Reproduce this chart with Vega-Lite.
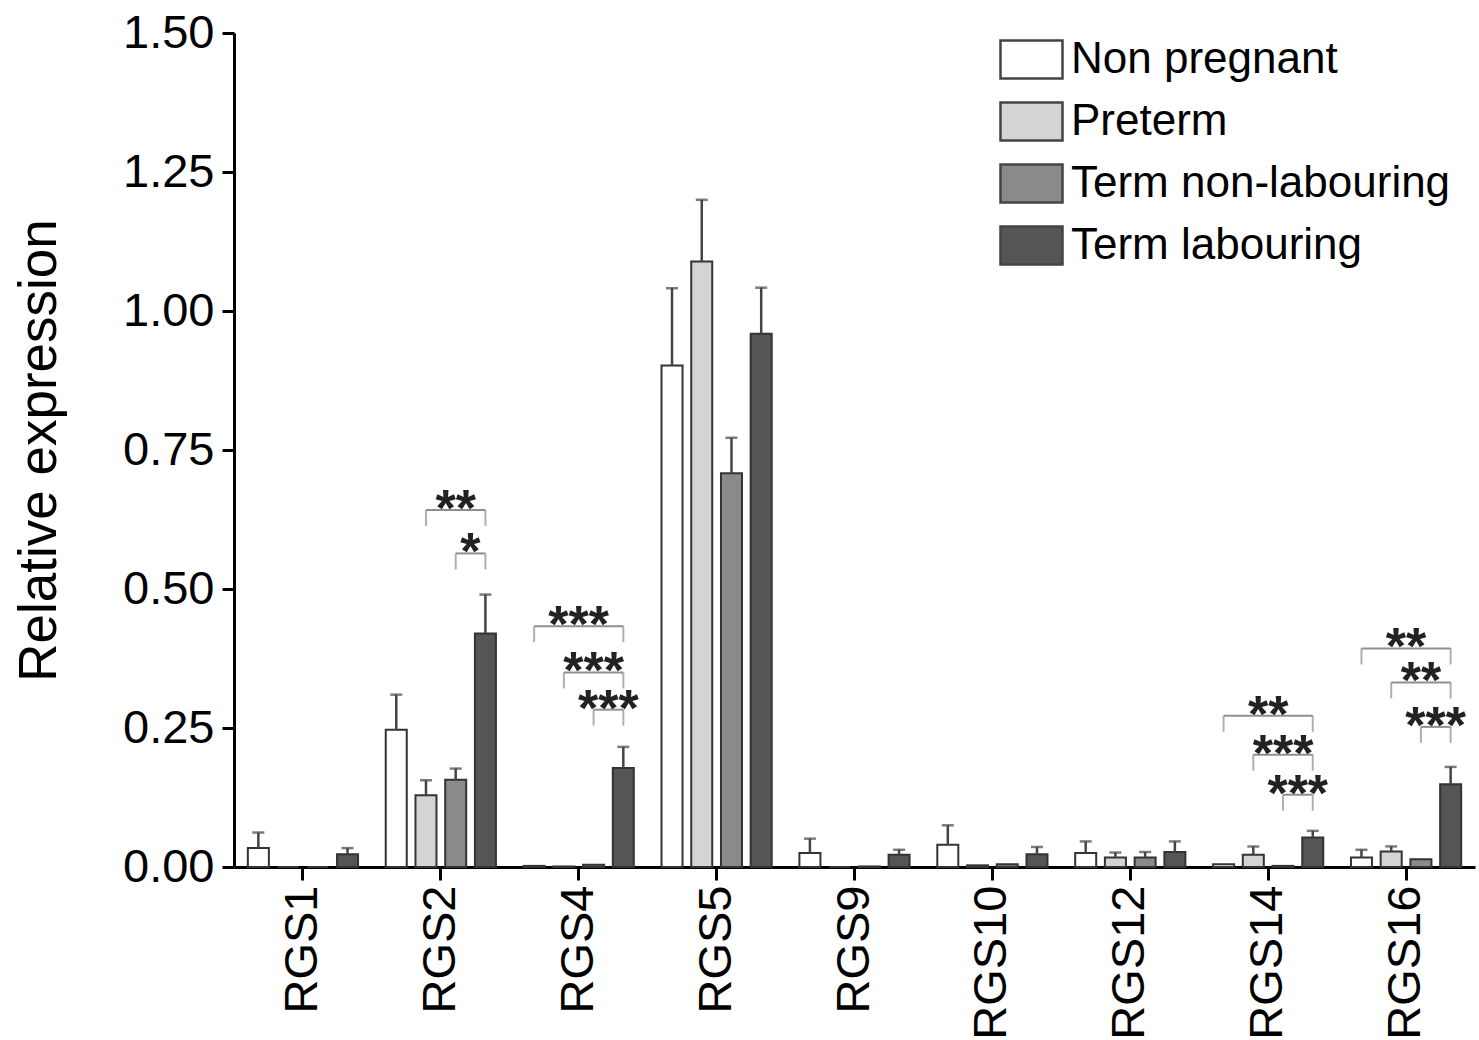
{
  "$schema": "https://vega.github.io/schema/vega-lite/v6.json",
  "width": 1241,
  "height": 834,
  "autosize": {"type": "none"},
  "padding": {"left": 234, "top": 33, "right": 4, "bottom": 173},
  "config": {"view": {"stroke": null}, "font": "Liberation Sans"},
  "datasets": {
    "bars": [
      {"gene": "RGS1", "group": "Non pregnant", "value": 0.034, "err": 0.062},
      {"gene": "RGS1", "group": "Preterm", "value": 0.0, "err": null},
      {"gene": "RGS1", "group": "Term non-labouring", "value": 0.0, "err": null},
      {"gene": "RGS1", "group": "Term labouring", "value": 0.023, "err": 0.034},
      {"gene": "RGS2", "group": "Non pregnant", "value": 0.247, "err": 0.31},
      {"gene": "RGS2", "group": "Preterm", "value": 0.129, "err": 0.156},
      {"gene": "RGS2", "group": "Term non-labouring", "value": 0.157, "err": 0.177},
      {"gene": "RGS2", "group": "Term labouring", "value": 0.42, "err": 0.49},
      {"gene": "RGS4", "group": "Non pregnant", "value": 0.002, "err": null},
      {"gene": "RGS4", "group": "Preterm", "value": 0.001, "err": null},
      {"gene": "RGS4", "group": "Term non-labouring", "value": 0.004, "err": null},
      {"gene": "RGS4", "group": "Term labouring", "value": 0.178, "err": 0.216},
      {"gene": "RGS5", "group": "Non pregnant", "value": 0.902, "err": 1.041},
      {"gene": "RGS5", "group": "Preterm", "value": 1.089, "err": 1.2},
      {"gene": "RGS5", "group": "Term non-labouring", "value": 0.708, "err": 0.772},
      {"gene": "RGS5", "group": "Term labouring", "value": 0.959, "err": 1.042},
      {"gene": "RGS9", "group": "Non pregnant", "value": 0.025, "err": 0.051},
      {"gene": "RGS9", "group": "Preterm", "value": 0.0, "err": null},
      {"gene": "RGS9", "group": "Term non-labouring", "value": 0.001, "err": null},
      {"gene": "RGS9", "group": "Term labouring", "value": 0.022, "err": 0.031},
      {"gene": "RGS10", "group": "Non pregnant", "value": 0.04, "err": 0.075},
      {"gene": "RGS10", "group": "Preterm", "value": 0.003, "err": null},
      {"gene": "RGS10", "group": "Term non-labouring", "value": 0.005, "err": null},
      {"gene": "RGS10", "group": "Term labouring", "value": 0.023, "err": 0.036},
      {"gene": "RGS12", "group": "Non pregnant", "value": 0.025, "err": 0.046},
      {"gene": "RGS12", "group": "Preterm", "value": 0.017, "err": 0.026},
      {"gene": "RGS12", "group": "Term non-labouring", "value": 0.017, "err": 0.027},
      {"gene": "RGS12", "group": "Term labouring", "value": 0.027, "err": 0.046},
      {"gene": "RGS14", "group": "Non pregnant", "value": 0.005, "err": null},
      {"gene": "RGS14", "group": "Preterm", "value": 0.022, "err": 0.037},
      {"gene": "RGS14", "group": "Term non-labouring", "value": 0.002, "err": null},
      {"gene": "RGS14", "group": "Term labouring", "value": 0.053, "err": 0.065},
      {"gene": "RGS16", "group": "Non pregnant", "value": 0.017, "err": 0.031},
      {"gene": "RGS16", "group": "Preterm", "value": 0.028, "err": 0.037},
      {"gene": "RGS16", "group": "Term non-labouring", "value": 0.014, "err": null},
      {"gene": "RGS16", "group": "Term labouring", "value": 0.149, "err": 0.18}
    ],
    "brackets": [
      {"id": 1, "gene": "RGS2", "from": "Preterm", "to": "Term labouring", "pair": "P-TL", "level": 0.642, "label": "**"},
      {"id": 2, "gene": "RGS2", "from": "Term non-labouring", "to": "Term labouring", "pair": "TNL-TL", "level": 0.564, "label": "*"},
      {"id": 3, "gene": "RGS4", "from": "Non pregnant", "to": "Term labouring", "pair": "NP-TL", "level": 0.433, "label": "***"},
      {"id": 4, "gene": "RGS4", "from": "Preterm", "to": "Term labouring", "pair": "P-TL", "level": 0.35, "label": "***"},
      {"id": 5, "gene": "RGS4", "from": "Term non-labouring", "to": "Term labouring", "pair": "TNL-TL", "level": 0.283, "label": "***"},
      {"id": 6, "gene": "RGS14", "from": "Non pregnant", "to": "Term labouring", "pair": "NP-TL", "level": 0.272, "label": "**"},
      {"id": 7, "gene": "RGS14", "from": "Preterm", "to": "Term labouring", "pair": "P-TL", "level": 0.202, "label": "***"},
      {"id": 8, "gene": "RGS14", "from": "Term non-labouring", "to": "Term labouring", "pair": "TNL-TL", "level": 0.13, "label": "***"},
      {"id": 9, "gene": "RGS16", "from": "Non pregnant", "to": "Term labouring", "pair": "NP-TL", "level": 0.393, "label": "**"},
      {"id": 10, "gene": "RGS16", "from": "Preterm", "to": "Term labouring", "pair": "P-TL", "level": 0.332, "label": "**"},
      {"id": 11, "gene": "RGS16", "from": "Term non-labouring", "to": "Term labouring", "pair": "TNL-TL", "level": 0.252, "label": "***"}
    ]
  },
  "encoding": {
    "x": {
      "field": "gene",
      "type": "nominal",
      "sort": ["RGS1", "RGS2", "RGS4", "RGS5", "RGS9", "RGS10", "RGS12", "RGS14", "RGS16"],
      "scale": {"domain": ["RGS1", "RGS2", "RGS4", "RGS5", "RGS9", "RGS10", "RGS12", "RGS14", "RGS16"], "paddingInner": 0, "paddingOuter": 0},
      "axis": {
        "title": null,
        "labelAngle": -90,
        "labelFontSize": 47,
        "labelColor": "black",
        "labelPadding": 5,
        "tickSize": 13,
        "tickWidth": 3,
        "tickColor": "black",
        "domainWidth": 3,
        "domainColor": "black",
        "grid": false
      }
    }
  },
  "layer": [
    {
      "data": {"name": "bars"},
      "mark": {"type": "bar", "stroke": "#333333", "strokeWidth": 2},
      "encoding": {
        "xOffset": {
          "field": "group",
          "type": "nominal",
          "scale": {"domain": ["Non pregnant", "Preterm", "Term non-labouring", "Term labouring"], "paddingInner": 0.293, "paddingOuter": 0.466}
        },
        "y": {
          "field": "value",
          "type": "quantitative",
          "scale": {"domain": [0, 1.5], "nice": false},
          "axis": {
            "values": [0, 0.25, 0.5, 0.75, 1, 1.25, 1.5],
            "format": ".2f",
            "title": "Relative expression",
            "titleFontSize": 53,
            "titleFontWeight": "normal",
            "titleColor": "black",
            "titlePadding": 56,
            "labelFontSize": 47,
            "labelColor": "black",
            "labelPadding": 8,
            "tickSize": 12,
            "tickWidth": 3,
            "tickColor": "black",
            "domainWidth": 3,
            "domainColor": "black",
            "grid": false
          }
        },
        "fill": {
          "field": "group",
          "type": "nominal",
          "scale": {"domain": ["Non pregnant", "Preterm", "Term non-labouring", "Term labouring"], "range": ["#ffffff", "#d4d4d4", "#8a8a8a", "#555555"]},
          "legend": {
            "title": null,
            "orient": "none",
            "legendX": 765,
            "legendY": -6,
            "labelFontSize": 44,
            "labelColor": "black",
            "labelOffset": 7,
            "rowPadding": 5,
            "symbolType": "M-1,-0.61H1V0.61H-1Z",
            "symbolSize": 3844,
            "symbolStrokeColor": "#444444",
            "symbolStrokeWidth": 2.5,
            "padding": 0,
            "labelLimit": 600
          }
        }
      }
    },
    {
      "data": {"name": "bars"},
      "transform": [{"filter": "datum.err != null"}],
      "mark": {"type": "rule", "color": "#444444", "strokeWidth": 2.5},
      "encoding": {
        "xOffset": {"field": "group", "type": "nominal"},
        "y": {"field": "value", "type": "quantitative"},
        "y2": {"field": "err"}
      }
    },
    {
      "data": {"name": "bars"},
      "transform": [{"filter": "datum.err != null"}],
      "mark": {"type": "tick", "orient": "horizontal", "color": "#444444", "size": 12, "thickness": 2.5},
      "encoding": {
        "xOffset": {"field": "group", "type": "nominal"},
        "y": {"field": "err", "type": "quantitative"}
      }
    },
    {
      "data": {"name": "brackets"},
      "transform": [{"fold": ["from", "to"], "as": ["end", "grp"]}],
      "mark": {"type": "line", "color": "#8f8f8f", "strokeWidth": 2},
      "encoding": {
        "xOffset": {"field": "grp", "type": "nominal"},
        "y": {"field": "level", "type": "quantitative"},
        "detail": {"field": "id", "type": "nominal"}
      }
    },
    {
      "data": {"name": "brackets"},
      "transform": [{"fold": ["from", "to"], "as": ["end", "grp"]}],
      "mark": {"type": "tick", "orient": "vertical", "color": "#8f8f8f", "size": 16, "thickness": 2, "yOffset": 8},
      "encoding": {
        "xOffset": {"field": "grp", "type": "nominal"},
        "y": {"field": "level", "type": "quantitative"}
      }
    },
    {
      "data": {"name": "brackets"},
      "transform": [{"filter": "datum.pair == 'NP-TL'"}],
      "mark": {"type": "text", "fontSize": 52, "fontWeight": "bold", "color": "#222222", "baseline": "alphabetic", "dy": 16},
      "encoding": {
        "y": {"field": "level", "type": "quantitative"},
        "text": {"field": "label"}
      }
    },
    {
      "data": {"name": "brackets"},
      "transform": [{"filter": "datum.pair == 'P-TL'"}],
      "mark": {"type": "text", "fontSize": 52, "fontWeight": "bold", "color": "#222222", "baseline": "alphabetic", "dy": 16},
      "encoding": {
        "xOffset": {"datum": "Term non-labouring"},
        "y": {"field": "level", "type": "quantitative"},
        "text": {"field": "label"}
      }
    },
    {
      "data": {"name": "brackets"},
      "transform": [{"filter": "datum.pair == 'TNL-TL'"}],
      "mark": {"type": "text", "fontSize": 52, "fontWeight": "bold", "color": "#222222", "baseline": "alphabetic", "dy": 16, "dx": -15},
      "encoding": {
        "xOffset": {"datum": "Term labouring"},
        "y": {"field": "level", "type": "quantitative"},
        "text": {"field": "label"}
      }
    }
  ]
}
